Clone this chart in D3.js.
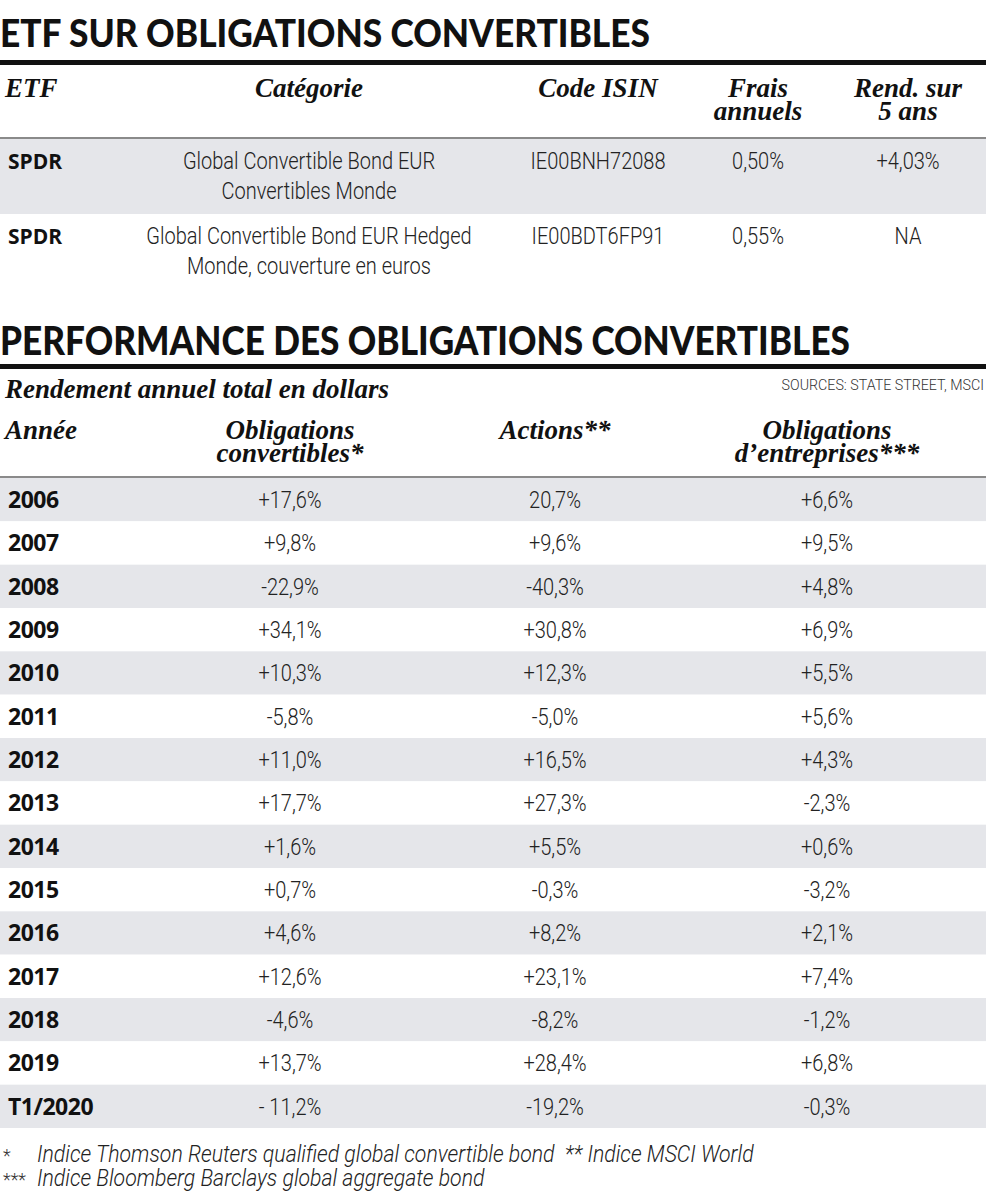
<!DOCTYPE html>
<html>
<head>
<meta charset="utf-8">
<script src="https://cdn.jsdelivr.net/npm/d3@7/dist/d3.min.js"></script>
<style>
  html, body { margin: 0; padding: 0; background: #fff; }
  svg { display: block; }
</style>
</head>
<body>
<div id="chart"></div>
<script>
// ---------- DATA ----------
const title1 = "ETF SUR OBLIGATIONS CONVERTIBLES";
const title2 = "PERFORMANCE DES OBLIGATIONS CONVERTIBLES";

const etfHeaders = [["ETF"], ["Catégorie"], ["Code ISIN"], ["Frais", "annuels"], ["Rend. sur", "5 ans"]];
const etfNames = ["SPDR", "SPDR"];
const etfCategories = [
  ["Global Convertible Bond EUR", "Convertibles Monde"],
  ["Global Convertible Bond EUR Hedged", "Monde, couverture en euros"]
];
const etfIsin = ["IE00BNH72088", "IE00BDT6FP91"];
const etfFees = ["0,50%", "0,55%"];
const etfReturn5y = ["+4,03%", "NA"];

const perfSubtitle = "Rendement annuel total en dollars";
const perfSource = "SOURCES: STATE STREET, MSCI";
const perfHeaders = [["Année"], ["Obligations", "convertibles*"], ["Actions**"], ["Obligations", "d\u2019entreprises***"]];
const years = ["2006","2007","2008","2009","2010","2011","2012","2013","2014","2015","2016","2017","2018","2019","T1/2020"];
const convertibles = ["+17,6%","+9,8%","-22,9%","+34,1%","+10,3%","-5,8%","+11,0%","+17,7%","+1,6%","+0,7%","+4,6%","+12,6%","-4,6%","+13,7%","- 11,2%"];
const actions = ["20,7%","+9,6%","-40,3%","+30,8%","+12,3%","-5,0%","+16,5%","+27,3%","+5,5%","-0,3%","+8,2%","+23,1%","-8,2%","+28,4%","-19,2%"];
const corporate = ["+6,6%","+9,5%","+4,8%","+6,9%","+5,5%","+5,6%","+4,3%","-2,3%","+0,6%","-3,2%","+2,1%","+7,4%","-1,2%","+6,8%","-0,3%"];

const footnoteMarks = ["*", "***"];
const footnoteLines = [
  "Indice Thomson Reuters qualified global convertible bond  ** Indice MSCI World",
  "Indice Bloomberg Barclays global aggregate bond"
];

// ---------- LAYOUT ----------
const W = 986, H = 1200;
const bandColor = "#e5e6ea";
const textColor = "#222";
const serifHead = "'Liberation Serif', 'DejaVu Serif', serif";
const bodyFont = "'Roboto', 'Liberation Sans', sans-serif";
const yearFont = "'Open Sans', 'Liberation Sans', sans-serif";
const titleFont = "'Lato', 'Open Sans', sans-serif";
const condense = 0.87;

const svg = d3.select("#chart").append("svg")
  .attr("width", W).attr("height", H)
  .attr("viewBox", `0 0 ${W} ${H}`);

function title(text, y, width, size) {
  svg.append("text")
    .attr("x", 0).attr("y", y)
    .attr("font-family", titleFont).attr("font-weight", 900)
    .attr("font-size", size)
    .attr("textLength", width).attr("lengthAdjust", "spacingAndGlyphs")
    .attr("fill", "#111")
    .text(text);
}

// condensed light body text, possibly multi-line
function bodyText(parent, x, y, lines, opts = {}) {
  const g = parent.append("g")
    .attr("transform", `translate(${x},${y}) scale(${opts.sx || condense},1)`);
  const t = g.append("text")
    .attr("x", 0).attr("y", 0)
    .attr("text-anchor", opts.anchor || "middle")
    .attr("font-family", bodyFont).attr("font-weight", 300)
    .attr("font-style", opts.italic ? "italic" : "normal")
    .attr("font-size", opts.size || 23)
    .attr("fill", opts.fill || textColor);
  if (opts.pre) t.style("white-space", "pre");
  lines.forEach((l, k) => t.append("tspan").attr("x", 0).attr("dy", k === 0 ? 0 : (opts.lh || 30)).text(l));
  return t;
}

function headText(x, y, lines, anchor) {
  const t = svg.append("text")
    .attr("x", x).attr("y", y)
    .attr("text-anchor", anchor)
    .attr("font-family", serifHead).attr("font-style", "italic").attr("font-weight", 700)
    .attr("font-size", 27).attr("fill", "#111");
  lines.forEach((l, k) => t.append("tspan").attr("x", x).attr("dy", k === 0 ? 0 : 23).text(l));
}

// ---------- TABLE 1 ----------
title(title1, 47, 650, 37);
svg.append("rect").attr("x", 0).attr("y", 60).attr("width", W).attr("height", 5).attr("fill", "#111");

const etfColX = d3.scaleOrdinal().domain(d3.range(5)).range([5, 309, 598, 758, 908]);

etfHeaders.forEach((lines, i) => headText(etfColX(i), 97, lines, i === 0 ? "start" : "middle"));

svg.append("rect").attr("x", 0).attr("y", 137).attr("width", W).attr("height", 2).attr("fill", "#8a8a8a");

const etfRowY = d3.scaleBand().domain(d3.range(etfNames.length)).range([139, 289]).paddingInner(0);

const etfRows = svg.append("g").selectAll("g").data(etfNames).join("g")
  .attr("transform", (d, i) => `translate(0,${etfRowY(i)})`);

etfRows.append("rect")
  .attr("x", 0).attr("y", 0).attr("width", W).attr("height", etfRowY.bandwidth())
  .attr("fill", (d, i) => i % 2 === 0 ? bandColor : "#fff");

etfRows.append("text")
  .attr("x", 8).attr("y", 30)
  .attr("font-family", yearFont).attr("font-weight", 700).attr("font-size", 21)
  .attr("fill", "#111")
  .text(d => d);

etfRows.each(function(d, i) {
  const g = d3.select(this);
  const cells = [etfCategories[i], [etfIsin[i]], [etfFees[i]], [etfReturn5y[i]]];
  cells.forEach((lines, c) => bodyText(g, etfColX(c + 1), 30, lines));
});

// ---------- TABLE 2 ----------
title(title2, 355, 850, 40);
svg.append("rect").attr("x", 0).attr("y", 364).attr("width", W).attr("height", 5).attr("fill", "#111");

svg.append("text")
  .attr("x", 5).attr("y", 398)
  .attr("font-family", serifHead).attr("font-style", "italic").attr("font-weight", 700)
  .attr("font-size", 27).attr("fill", "#111")
  .text(perfSubtitle);

bodyText(svg, 984, 390, [perfSource], { anchor: "end", size: 15, sx: 0.95, fill: "#333" });

const perfColX = d3.scaleOrdinal().domain(d3.range(4)).range([5, 290, 555, 827]);
perfHeaders.forEach((lines, i) => headText(perfColX(i), 439, lines, i === 0 ? "start" : "middle"));

svg.append("rect").attr("x", 0).attr("y", 476).attr("width", W).attr("height", 2).attr("fill", "#8a8a8a");

const perfRowY = d3.scaleBand().domain(years).range([478, 1128]).paddingInner(0);

const perfRows = svg.append("g").selectAll("g").data(years).join("g")
  .attr("transform", d => `translate(0,${perfRowY(d)})`);

perfRows.append("rect")
  .attr("x", 0).attr("y", 0).attr("width", W).attr("height", perfRowY.bandwidth())
  .attr("fill", (d, i) => i % 2 === 0 ? bandColor : "#fff");

perfRows.append("text")
  .attr("x", 8).attr("y", 30)
  .attr("font-family", yearFont).attr("font-weight", 700).attr("font-size", 23)
  .attr("letter-spacing", -0.5)
  .attr("fill", "#111")
  .text(d => d);

const perfSeries = [convertibles, actions, corporate];
perfRows.each(function(d, i) {
  const g = d3.select(this);
  perfSeries.forEach((series, s) => bodyText(g, perfColX(s + 1), 30, [series[i]]));
});

// ---------- FOOTNOTES ----------
footnoteMarks.forEach((m, i) => {
  bodyText(svg, 3, 1162 + i * 24, [m], { anchor: "start", size: 18, sx: 1, fill: "#333" });
  bodyText(svg, 37, 1162 + i * 24, [footnoteLines[i]], { anchor: "start", italic: true, size: 23, sx: 0.925, pre: true });
});
</script>
</body>
</html>
